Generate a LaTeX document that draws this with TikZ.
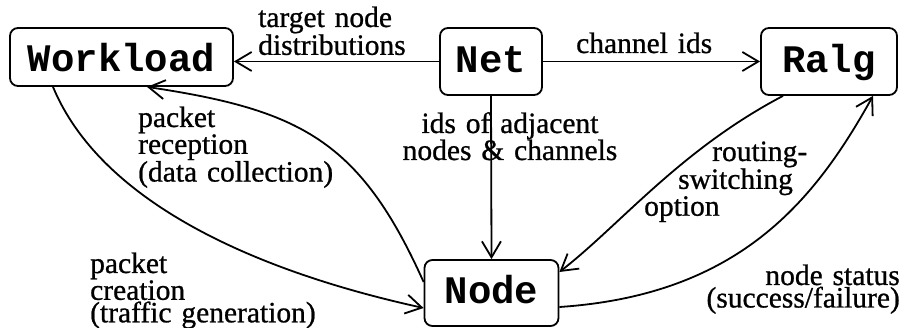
\documentclass[tikz,border=0pt]{standalone}
\usepackage{fontspec}
\setmainfont{Liberation Serif}[WordSpace=0.8, FakeBold=0.8]
\newfontfamily\boxfont{Liberation Mono}
\usetikzlibrary{arrows.meta}
\newcommand\lblfont[1]{\fontsize{29.5}{#1}\selectfont}

\begin{document}
\lineskiplimit=-100pt\relax
\begin{tikzpicture}[x=1pt,y=-1pt,
  module/.style={draw, line width=1.8pt, rounded corners=8pt, inner sep=0pt,
    font=\boxfont\bfseries\fontsize{39}{39}\selectfont,
    text height=21.6pt, text depth=0pt},
  lbl/.style={inner sep=0pt, anchor=base west, align=left, text width=260pt,
    font=\lblfont{#1}},
  lbl/.default=24pt,
  flow/.style={line width=1.8pt, -{Straight Barb[length=16pt,width=19pt]}}]

\useasboundingbox (0,0) rectangle (906,328);

% modules
\node[module, minimum width=223pt, minimum height=58pt, text height=30pt] (workload) at (121.5,57) {Workload};
\node[module, minimum width=102pt, minimum height=67pt] (net) at (491,61.5) {Net};
\node[module, minimum width=136pt, minimum height=67pt] (ralg) at (829,61.5) {Ralg};
\node[module, minimum width=134pt, minimum height=66pt] (nd) at (491.5,293) {Node};

% data flows
\draw[flow] (net.west) -- (net.west -| workload.east);
\draw[flow] (net.east) -- (ralg.west);
\draw[flow] (net.south) -- (nd.north);
\draw[flow] ([xshift=-68.5pt]workload.south) .. controls (100,200) and (250,270) .. ([yshift=-15pt]nd.west);
\draw[flow] ([yshift=11pt]nd.west) .. controls (360,140) and (300,110) .. ([xshift=25.5pt]workload.south);
\draw[flow] ([xshift=-46pt]ralg.south) .. controls (680,150) and (620,225) .. ([yshift=21pt]nd.east);
\draw[flow] ([yshift=-14pt]nd.east) .. controls (740,295) and (815,200) .. ([xshift=44pt]ralg.south);

% flow labels
\node[lbl=26pt] (ltarget) at (258,27) {target node\\distributions};
\node[lbl] (lchan) at (576,53) {channel ids};
\node[lbl=27pt, anchor=base, align=center] (lids) at (510,133) {ids of adjacent\\nodes \& channels};
\node[lbl] (lrecv) at (138,127) {packet\\reception\\(data collection)};
\node[lbl=22.5pt] (lroute) at (644,161) {\hspace*{68pt}routing-\\\hspace*{34pt}switching\\option};
\node[lbl=22.5pt] (lcreate) at (90,273) {packet\\creation\\(traffic generation)};
\node[lbl=22.5pt, anchor=base east, align=right] (lstatus) at (900,285) {node status\\(success/failure)};

\end{tikzpicture}
\end{document}
